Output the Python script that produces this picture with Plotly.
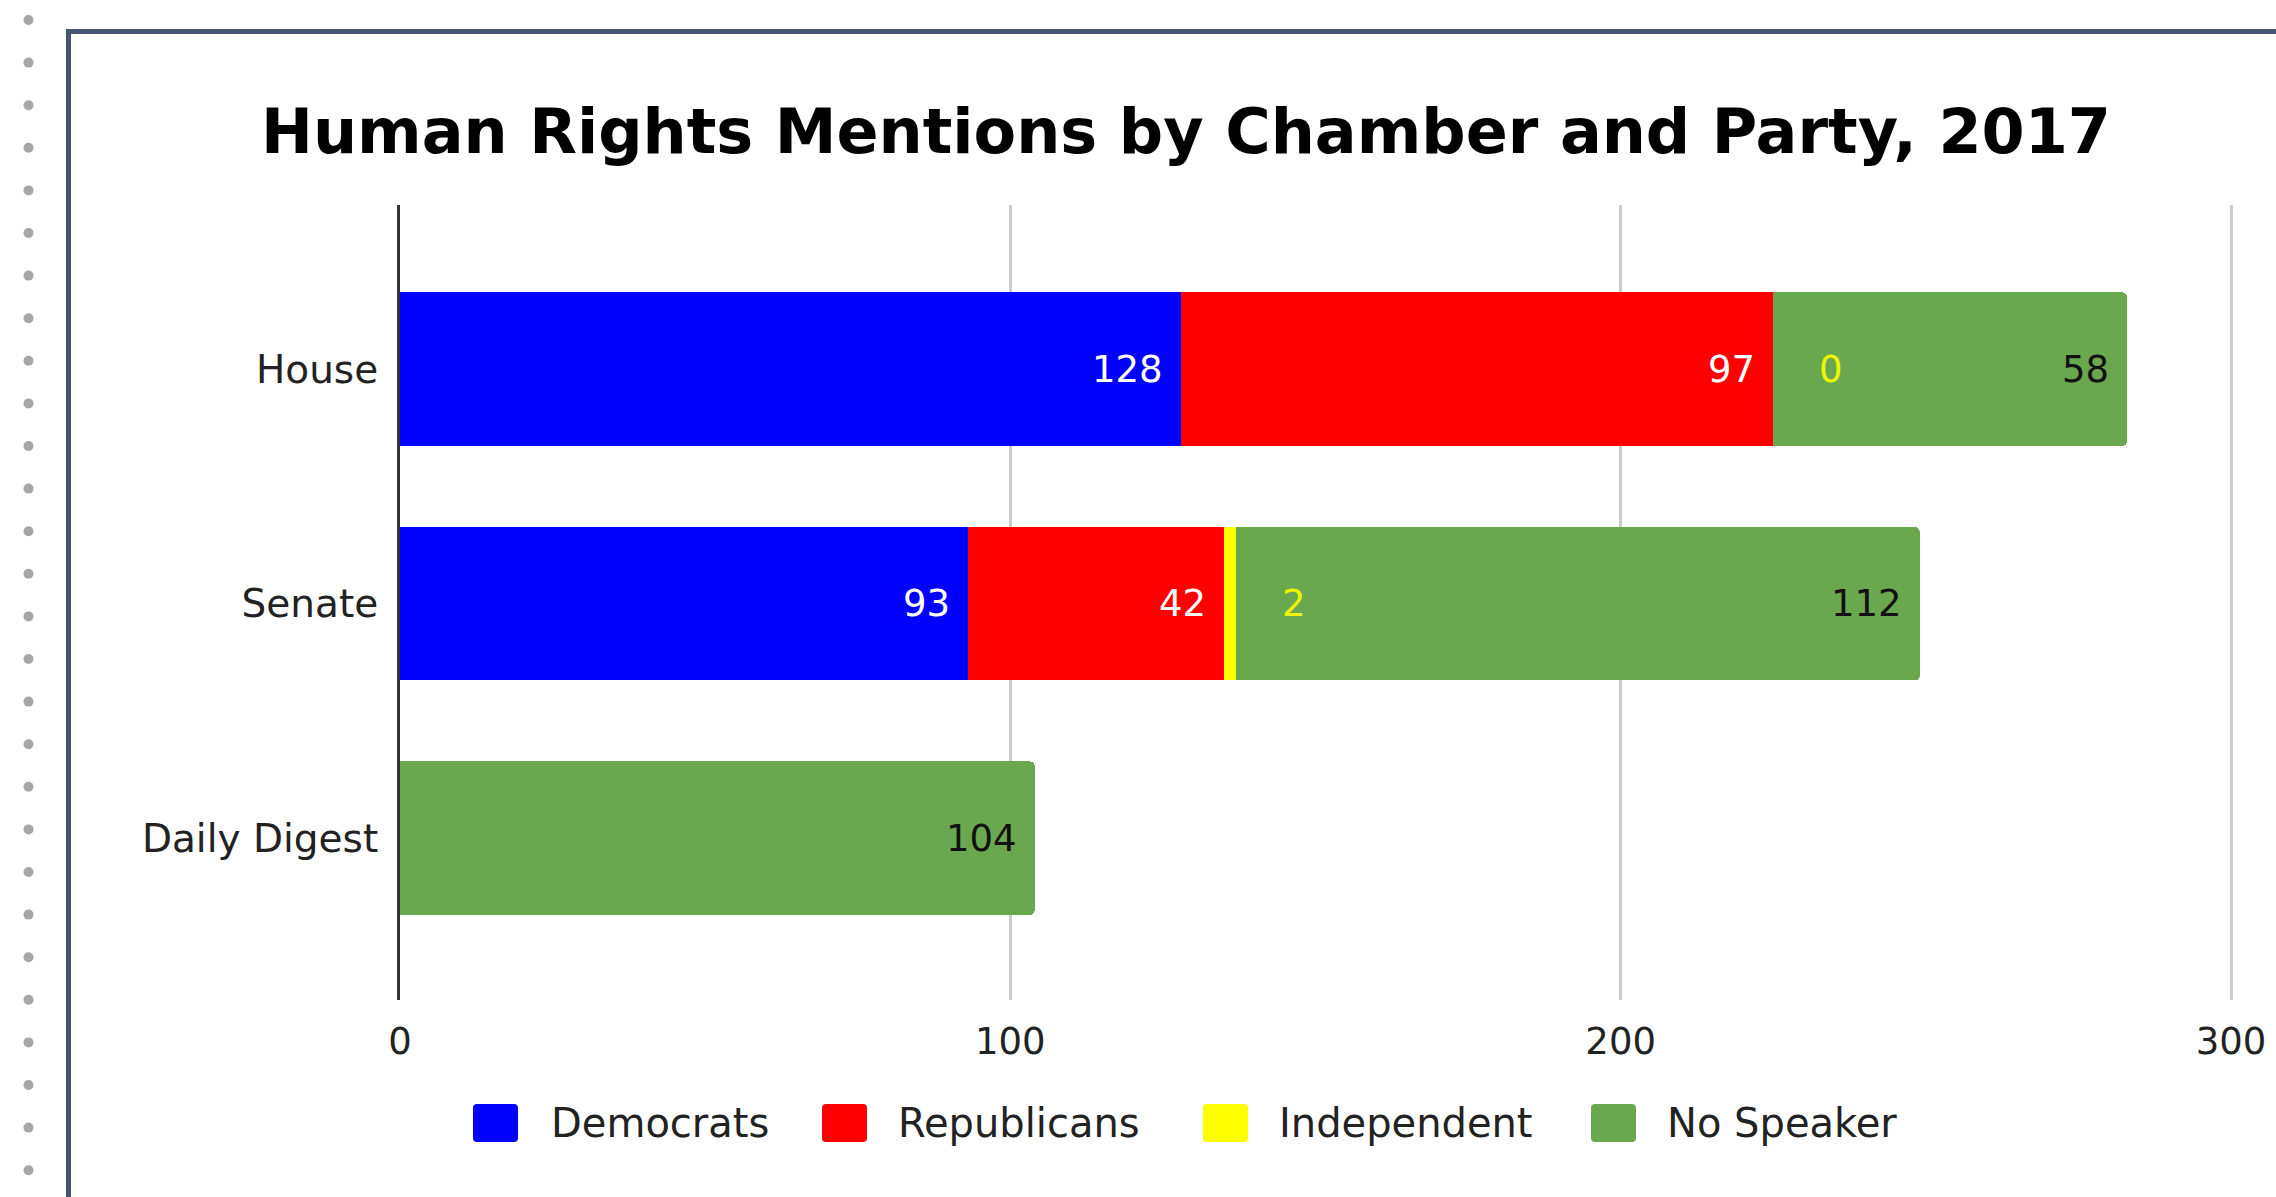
import plotly.graph_objects as go

# ---- data ----
categories = ["House", "Senate", "Daily Digest"]
series_names = ["Democrats", "Republicans", "Independent", "No Speaker"]
democrats = [128, 93, None]
republicans = [97, 42, None]
independent = [0, 2, None]
no_speaker = [58, 112, 104]
x_ticks = [0, 100, 200, 300]

# ---- styling ----
W, H = 2276, 1197
FONT = "DejaVu Sans"
colors = {"Democrats": "#0000ff", "Republicans": "#ff0000",
          "Independent": "#ffff00", "No Speaker": "#6aa84f"}
label_colors = {"Democrats": "#ffffff", "Republicans": "#ffffff",
                "Independent": "#eef500", "No Speaker": "#111111"}


def px(x):
    return x / W


def py(y):
    return 1 - y / H


values = {"Democrats": democrats, "Republicans": republicans,
          "Independent": independent, "No Speaker": no_speaker}

fig = go.Figure()
for name in series_names:
    fig.add_trace(go.Bar(
        y=categories, x=values[name], name=name, orientation="h",
        marker=dict(color=colors[name], line=dict(width=0)),
        showlegend=False, hoverinfo="x+name",
    ))

# value labels at the end of each segment
annotations = []
for i, cat in enumerate(categories):
    running = 0
    for name in series_names:
        v = values[name][i]
        if v is None:
            continue
        running += v
        if name == "Independent":
            anchor, shift = "left", 45
        else:
            anchor, shift = "right", -17
        annotations.append(dict(
            x=running, y=cat, xref="x", yref="y", text=str(v),
            showarrow=False, xanchor=anchor, yanchor="middle",
            xshift=shift, borderpad=0,
            font=dict(family=FONT, size=37, color=label_colors[name]),
        ))

# custom legend
legend_items = [("Democrats", 473, 549), ("Republicans", 822, 896),
                ("Independent", 1203, 1277), ("No Speaker", 1591, 1665)]
shapes = []


def rounded_rect(x0, y0, x1, y1, r):
    rx, ry = r / W, r / H
    X0, X1 = px(x0), px(x1)
    Y0, Y1 = py(y1), py(y0)  # bottom, top in paper units
    return (f"M{X0+rx},{Y1} L{X1-rx},{Y1} Q{X1},{Y1} {X1},{Y1-ry} "
            f"L{X1},{Y0+ry} Q{X1},{Y0} {X1-rx},{Y0} L{X0+rx},{Y0} "
            f"Q{X0},{Y0} {X0},{Y0+ry} L{X0},{Y1-ry} Q{X0},{Y1} {X0+rx},{Y1} Z")


for name, sx, tx in legend_items:
    shapes.append(dict(type="path", xref="paper", yref="paper",
                       path=rounded_rect(sx, 1104, sx + 45, 1142, 4),
                       fillcolor=colors[name], line=dict(width=0)))
    annotations.append(dict(
        x=px(tx), y=py(1123), xref="paper", yref="paper", text=name,
        showarrow=False, xanchor="left", yanchor="middle",
        font=dict(family=FONT, size=40, color="#222222"),
    ))

# page decoration: dotted rail and frame
for k in range(28):
    cy = 20 + 42.6 * k
    shapes.append(dict(type="circle", xref="paper", yref="paper",
                       x0=px(23.5), x1=px(33.5), y0=py(cy + 5), y1=py(cy - 5),
                       fillcolor="#a6a6a6", line=dict(width=0)))
shapes.append(dict(type="rect", xref="paper", yref="paper",
                   x0=px(68.5), x1=px(2320), y0=py(1240), y1=py(31.5),
                   line=dict(color="#465670", width=5), fillcolor="rgba(0,0,0,0)"))

x_per_unit = (2231 - 400) / 300
x_max = 301

fig.update_layout(
    width=W, height=H,
    margin=dict(l=0, r=0, t=0, b=0, pad=0),
    paper_bgcolor="white", plot_bgcolor="white",
    barmode="stack", bargap=0.345, barcornerradius=5,
    title=dict(text="<b>Human Rights Mentions by Chamber and Party, 2017</b>",
               x=px(1186), y=py(131), xanchor="center", yanchor="middle",
               xref="paper", yref="paper",
               font=dict(family=FONT, size=62, color="#000000")),
    xaxis=dict(
        domain=[px(400), px(400 + x_max * x_per_unit)],
        range=[0, x_max], tickvals=x_ticks, ticktext=[str(t) for t in x_ticks],
        showgrid=True, gridcolor="#cccccc", gridwidth=3,
        zeroline=False, showline=False, ticks="",
        ticklabelstandoff=16,
        tickfont=dict(family=FONT, size=37, color="#222222"),
        automargin=False, fixedrange=True,
    ),
    yaxis=dict(
        domain=[py(1000), py(205)],
        categoryorder="array", categoryarray=categories[::-1],
        range=[-0.69, 2.7],
        showgrid=False, zeroline=False,
        showline=True, linecolor="#333333", linewidth=3, ticks="",
        ticklabelstandoff=11, layer="above traces",
        tickfont=dict(family=FONT, size=39, color="#222222"),
        automargin=False, fixedrange=True,
    ),
    shapes=shapes,
    annotations=annotations,
    showlegend=False,
)

fig.write_html("out.html")
